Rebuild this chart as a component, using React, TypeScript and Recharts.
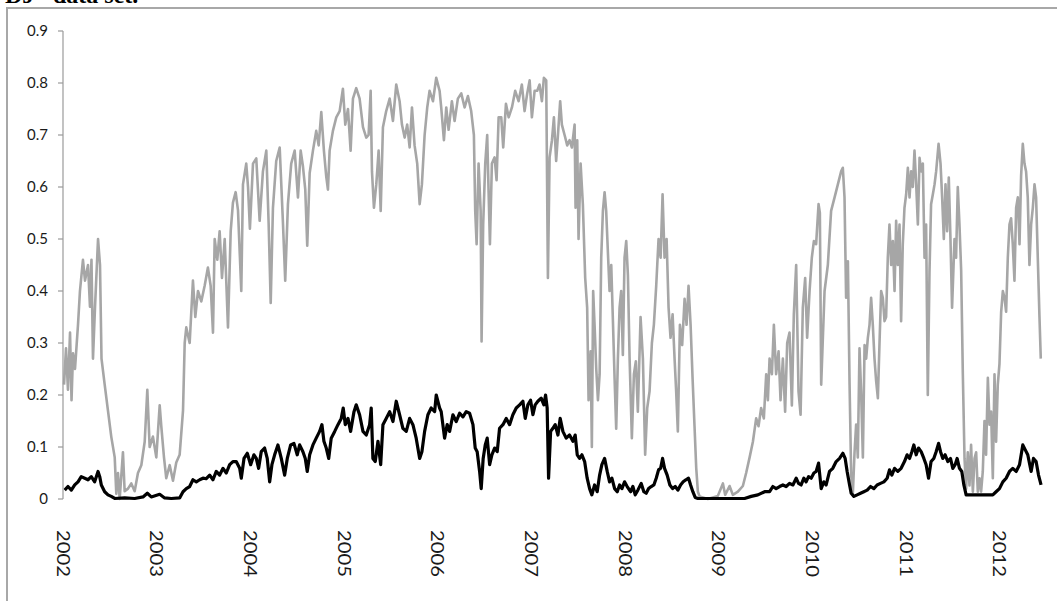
import React from 'react';
import { LineChart, Line, XAxis, YAxis } from 'recharts';

const YEARS = [2002, 2003, 2004, 2005, 2006, 2007, 2008, 2009, 2010, 2011, 2012];
const Y_TICKS = [0, 0.1, 0.2, 0.3, 0.4, 0.5, 0.6, 0.7, 0.8, 0.9];

// [years after 1 Jan 2002, value]
const GRAY: [number, number][] = [
  [0.011,0.22],[0.032,0.29],[0.053,0.21],[0.075,0.32],[0.091,0.19],[0.107,0.28],[0.128,0.25],[0.160,0.335],
  [0.181,0.40],[0.213,0.46],[0.235,0.42],[0.267,0.45],[0.288,0.37],[0.304,0.46],[0.320,0.27],[0.342,0.37],
  [0.374,0.50],[0.395,0.45],[0.411,0.27],[0.445,0.22],[0.480,0.17],[0.515,0.12],[0.552,0.08],[0.569,0.01],
  [0.587,0.05],[0.605,0.0],[0.640,0.09],[0.658,0.015],[0.694,0.02],[0.729,0.03],[0.765,0.015],[0.800,0.05],
  [0.836,0.065],[0.872,0.11],[0.900,0.21],[0.925,0.10],[0.960,0.12],[0.996,0.08],[1.032,0.18],[1.049,0.14],
  [1.078,0.08],[1.102,0.04],[1.139,0.065],[1.174,0.035],[1.209,0.07],[1.245,0.085],[1.281,0.17],[1.299,0.30],
  [1.316,0.33],[1.352,0.30],[1.387,0.42],[1.412,0.35],[1.441,0.40],[1.476,0.38],[1.512,0.41],[1.547,0.445],
  [1.576,0.41],[1.601,0.32],[1.619,0.50],[1.647,0.46],[1.672,0.515],[1.697,0.425],[1.726,0.50],[1.761,0.33],
  [1.790,0.515],[1.814,0.57],[1.843,0.59],[1.868,0.555],[1.903,0.40],[1.921,0.605],[1.956,0.645],[1.975,0.60],
  [1.995,0.52],[2.028,0.645],[2.063,0.655],[2.099,0.535],[2.134,0.63],[2.170,0.67],[2.195,0.53],[2.217,0.377],
  [2.241,0.56],[2.276,0.65],[2.313,0.676],[2.348,0.53],[2.372,0.42],[2.401,0.567],[2.436,0.645],[2.473,0.67],
  [2.508,0.58],[2.537,0.67],[2.561,0.64],[2.586,0.595],[2.607,0.487],[2.633,0.627],[2.668,0.67],[2.703,0.708],
  [2.729,0.68],[2.757,0.744],[2.785,0.67],[2.810,0.62],[2.828,0.595],[2.846,0.67],[2.881,0.708],[2.917,0.734],
  [2.953,0.746],[2.988,0.789],[3.013,0.72],[3.042,0.75],[3.070,0.67],[3.095,0.77],[3.130,0.79],[3.166,0.77],
  [3.202,0.715],[3.237,0.695],[3.262,0.70],[3.284,0.785],[3.298,0.63],[3.319,0.56],[3.344,0.605],[3.369,0.67],
  [3.391,0.554],[3.415,0.715],[3.450,0.746],[3.487,0.77],[3.522,0.727],[3.557,0.797],[3.593,0.765],[3.618,0.72],
  [3.647,0.695],[3.674,0.72],[3.700,0.676],[3.725,0.753],[3.753,0.68],[3.781,0.645],[3.807,0.567],[3.831,0.605],
  [3.860,0.70],[3.888,0.753],[3.913,0.785],[3.949,0.765],[3.984,0.81],[4.020,0.785],[4.037,0.753],[4.066,0.69],
  [4.091,0.753],[4.116,0.71],[4.151,0.765],[4.180,0.727],[4.215,0.77],[4.251,0.78],[4.287,0.753],[4.322,0.775],
  [4.357,0.746],[4.386,0.70],[4.400,0.554],[4.415,0.49],[4.436,0.645],[4.458,0.554],[4.468,0.303],[4.485,0.528],
  [4.507,0.645],[4.528,0.70],[4.543,0.59],[4.557,0.49],[4.578,0.645],[4.607,0.657],[4.628,0.613],[4.650,0.734],
  [4.678,0.734],[4.699,0.676],[4.728,0.76],[4.757,0.734],[4.792,0.753],[4.827,0.785],[4.863,0.765],[4.898,0.797],
  [4.927,0.746],[4.955,0.78],[4.981,0.805],[5.005,0.734],[5.034,0.785],[5.062,0.785],[5.087,0.797],[5.112,0.765],
  [5.133,0.81],[5.158,0.805],[5.176,0.425],[5.194,0.657],[5.219,0.69],[5.240,0.734],[5.264,0.65],[5.283,0.70],
  [5.307,0.765],[5.325,0.72],[5.354,0.70],[5.382,0.68],[5.407,0.69],[5.432,0.676],[5.461,0.72],[5.471,0.56],
  [5.489,0.69],[5.503,0.50],[5.525,0.645],[5.549,0.567],[5.574,0.425],[5.595,0.368],[5.610,0.19],[5.632,0.284],
  [5.645,0.10],[5.659,0.40],[5.674,0.335],[5.692,0.25],[5.710,0.19],[5.728,0.24],[5.745,0.464],[5.763,0.554],
  [5.781,0.59],[5.798,0.554],[5.816,0.476],[5.834,0.40],[5.852,0.45],[5.870,0.342],[5.888,0.23],[5.905,0.135],
  [5.923,0.27],[5.941,0.368],[5.958,0.40],[5.976,0.277],[5.994,0.464],[6.012,0.496],[6.030,0.43],[6.048,0.27],
  [6.072,0.117],[6.094,0.24],[6.115,0.265],[6.136,0.168],[6.165,0.35],[6.190,0.27],[6.214,0.085],[6.236,0.175],
  [6.261,0.207],[6.286,0.30],[6.307,0.335],[6.332,0.41],[6.357,0.50],[6.379,0.464],[6.400,0.586],[6.421,0.464],
  [6.443,0.50],[6.464,0.368],[6.485,0.31],[6.507,0.355],[6.528,0.27],[6.545,0.207],[6.563,0.13],[6.585,0.335],
  [6.609,0.296],[6.635,0.385],[6.656,0.335],[6.677,0.41],[6.699,0.335],[6.720,0.233],[6.741,0.14],[6.759,0.06],
  [6.777,0.014],[6.795,0.005],[6.883,0.0],[6.990,0.006],[7.044,0.03],[7.068,0.008],[7.115,0.025],[7.150,0.008],
  [7.204,0.014],[7.257,0.025],[7.292,0.05],[7.329,0.08],[7.364,0.11],[7.399,0.155],[7.424,0.14],[7.452,0.175],
  [7.481,0.155],[7.506,0.24],[7.524,0.19],[7.542,0.27],[7.567,0.24],[7.588,0.335],[7.612,0.24],[7.638,0.284],
  [7.659,0.19],[7.684,0.27],[7.708,0.168],[7.730,0.30],[7.755,0.32],[7.780,0.18],[7.801,0.355],[7.826,0.45],
  [7.851,0.207],[7.873,0.162],[7.897,0.368],[7.922,0.425],[7.943,0.31],[7.969,0.40],[7.993,0.464],[8.015,0.496],
  [8.039,0.49],[8.065,0.567],[8.079,0.55],[8.093,0.22],[8.129,0.40],[8.164,0.45],[8.199,0.554],[8.236,0.58],
  [8.271,0.605],[8.306,0.63],[8.324,0.637],[8.342,0.58],[8.359,0.387],[8.378,0.457],[8.396,0.22],[8.413,0.046],
  [8.431,0.01],[8.449,0.09],[8.466,0.143],[8.484,0.08],[8.502,0.29],[8.519,0.207],[8.538,0.08],[8.556,0.296],
  [8.573,0.27],[8.591,0.31],[8.609,0.335],[8.626,0.387],[8.644,0.335],[8.662,0.27],[8.680,0.226],[8.698,0.194],
  [8.716,0.303],[8.733,0.40],[8.751,0.387],[8.769,0.342],[8.786,0.35],[8.804,0.464],[8.822,0.528],[8.840,0.45],
  [8.858,0.496],[8.876,0.40],[8.893,0.535],[8.911,0.45],[8.929,0.528],[8.946,0.342],[8.964,0.49],[8.982,0.56],
  [9.000,0.586],[9.018,0.637],[9.036,0.58],[9.053,0.63],[9.071,0.60],[9.089,0.67],[9.107,0.605],[9.125,0.528],
  [9.143,0.656],[9.160,0.63],[9.178,0.645],[9.196,0.464],[9.213,0.528],[9.231,0.20],[9.249,0.436],[9.266,0.567],
  [9.285,0.586],[9.303,0.605],[9.320,0.63],[9.346,0.683],[9.367,0.645],[9.384,0.58],[9.402,0.50],[9.420,0.605],
  [9.437,0.515],[9.455,0.618],[9.473,0.50],[9.490,0.368],[9.516,0.50],[9.533,0.464],[9.551,0.60],[9.569,0.528],
  [9.587,0.44],[9.605,0.24],[9.623,0.078],[9.640,0.02],[9.658,0.09],[9.676,0.026],[9.693,0.104],[9.712,0.014],
  [9.730,0.078],[9.747,0.09],[9.765,0.014],[9.783,0.04],[9.800,0.014],[9.818,0.053],[9.836,0.15],[9.853,0.085],
  [9.872,0.233],[9.890,0.143],[9.907,0.168],[9.925,0.04],[9.943,0.24],[9.960,0.11],[9.978,0.22],[9.996,0.26],
  [10.014,0.36],[10.032,0.40],[10.050,0.387],[10.067,0.36],[10.085,0.464],[10.103,0.528],[10.120,0.54],[10.138,0.49],
  [10.156,0.42],[10.174,0.56],[10.192,0.58],[10.210,0.49],[10.227,0.622],[10.245,0.683],[10.263,0.645],[10.280,0.63],
  [10.298,0.58],[10.316,0.45],[10.334,0.528],[10.352,0.56],[10.370,0.605],[10.387,0.58],[10.405,0.464],[10.423,0.35],
  [10.437,0.27],
];

const BLACK: [number, number][] = [
  [0.018,0.017],[0.053,0.024],[0.089,0.017],[0.125,0.027],[0.160,0.033],[0.195,0.043],[0.232,0.04],[0.267,0.037],
  [0.302,0.043],[0.338,0.033],[0.374,0.053],[0.392,0.043],[0.409,0.027],[0.445,0.014],[0.480,0.008],[0.515,0.005],
  [0.552,0.001],[0.658,0.002],[0.765,0.001],[0.854,0.004],[0.900,0.011],[0.942,0.004],[1.032,0.009],[1.085,0.002],
  [1.156,0.001],[1.245,0.002],[1.281,0.014],[1.316,0.02],[1.352,0.024],[1.387,0.037],[1.423,0.033],[1.459,0.037],
  [1.494,0.04],[1.529,0.039],[1.566,0.046],[1.601,0.037],[1.636,0.053],[1.672,0.046],[1.708,0.059],[1.743,0.05],
  [1.779,0.066],[1.814,0.072],[1.849,0.072],[1.886,0.059],[1.903,0.04],[1.932,0.078],[1.967,0.088],[2.003,0.066],
  [2.038,0.085],[2.063,0.078],[2.088,0.059],[2.116,0.091],[2.152,0.098],[2.180,0.078],[2.206,0.033],[2.230,0.066],
  [2.259,0.085],[2.294,0.104],[2.330,0.078],[2.366,0.046],[2.394,0.078],[2.430,0.104],[2.465,0.107],[2.500,0.085],
  [2.526,0.104],[2.561,0.091],[2.586,0.078],[2.607,0.053],[2.633,0.085],[2.668,0.104],[2.703,0.117],[2.739,0.13],
  [2.764,0.143],[2.785,0.111],[2.810,0.098],[2.836,0.078],[2.863,0.117],[2.900,0.13],[2.935,0.143],[2.970,0.155],
  [2.991,0.175],[3.013,0.143],[3.042,0.155],[3.070,0.13],[3.106,0.168],[3.130,0.181],[3.166,0.162],[3.202,0.13],
  [3.237,0.123],[3.273,0.143],[3.290,0.175],[3.308,0.078],[3.333,0.072],[3.362,0.111],[3.391,0.066],[3.415,0.143],
  [3.450,0.155],[3.487,0.168],[3.522,0.149],[3.557,0.188],[3.593,0.162],[3.628,0.136],[3.664,0.13],[3.700,0.155],
  [3.735,0.143],[3.770,0.117],[3.807,0.078],[3.831,0.091],[3.860,0.13],[3.895,0.162],[3.930,0.175],[3.967,0.168],
  [3.984,0.20],[4.020,0.175],[4.037,0.168],[4.073,0.117],[4.101,0.143],[4.127,0.13],[4.162,0.162],[4.197,0.149],
  [4.234,0.165],[4.269,0.158],[4.304,0.168],[4.340,0.165],[4.376,0.143],[4.400,0.098],[4.421,0.091],[4.447,0.053],
  [4.464,0.02],[4.485,0.078],[4.507,0.104],[4.528,0.117],[4.554,0.066],[4.578,0.085],[4.607,0.098],[4.635,0.091],
  [4.660,0.136],[4.696,0.143],[4.731,0.155],[4.767,0.143],[4.802,0.162],[4.838,0.175],[4.874,0.181],[4.909,0.188],
  [4.934,0.155],[4.962,0.181],[4.991,0.19],[5.016,0.162],[5.040,0.181],[5.069,0.188],[5.104,0.194],[5.133,0.181],
  [5.151,0.20],[5.168,0.175],[5.183,0.04],[5.205,0.13],[5.229,0.136],[5.254,0.143],[5.283,0.123],[5.307,0.155],
  [5.336,0.13],[5.371,0.117],[5.407,0.123],[5.443,0.111],[5.467,0.123],[5.489,0.085],[5.514,0.078],[5.539,0.085],
  [5.568,0.072],[5.595,0.04],[5.621,0.02],[5.645,0.008],[5.674,0.027],[5.702,0.014],[5.728,0.046],[5.752,0.066],
  [5.781,0.078],[5.809,0.053],[5.834,0.033],[5.859,0.04],[5.888,0.02],[5.916,0.014],[5.941,0.027],[5.966,0.02],
  [5.994,0.033],[6.022,0.024],[6.058,0.014],[6.083,0.024],[6.108,0.008],[6.136,0.017],[6.172,0.03],[6.200,0.014],
  [6.225,0.011],[6.251,0.02],[6.279,0.024],[6.307,0.027],[6.332,0.04],[6.357,0.056],[6.379,0.059],[6.400,0.078],
  [6.421,0.059],[6.449,0.046],[6.478,0.027],[6.507,0.02],[6.535,0.024],[6.563,0.017],[6.592,0.027],[6.620,0.033],
  [6.649,0.037],[6.677,0.04],[6.699,0.027],[6.723,0.014],[6.748,0.003],[6.777,0.001],[7.025,0.001],[7.275,0.001],
  [7.346,0.005],[7.417,0.008],[7.489,0.014],[7.542,0.014],[7.577,0.024],[7.612,0.02],[7.649,0.024],[7.684,0.027],
  [7.719,0.024],[7.755,0.03],[7.791,0.027],[7.826,0.04],[7.851,0.03],[7.879,0.027],[7.908,0.04],[7.932,0.033],
  [7.958,0.043],[7.986,0.04],[8.015,0.05],[8.039,0.053],[8.065,0.069],[8.093,0.02],[8.121,0.033],[8.146,0.027],
  [8.182,0.053],[8.217,0.059],[8.253,0.072],[8.289,0.078],[8.324,0.088],[8.349,0.078],[8.370,0.053],[8.396,0.027],
  [8.413,0.011],[8.442,0.005],[8.477,0.008],[8.513,0.011],[8.548,0.014],[8.584,0.017],[8.620,0.024],[8.655,0.02],
  [8.690,0.027],[8.726,0.03],[8.762,0.033],[8.797,0.04],[8.822,0.056],[8.847,0.046],[8.876,0.059],[8.911,0.053],
  [8.946,0.059],[8.982,0.072],[9.010,0.085],[9.036,0.078],[9.061,0.091],[9.082,0.104],[9.107,0.085],[9.132,0.098],
  [9.160,0.091],[9.189,0.078],[9.213,0.066],[9.239,0.04],[9.266,0.072],[9.295,0.078],[9.320,0.091],[9.346,0.107],
  [9.367,0.091],[9.391,0.078],[9.416,0.085],[9.445,0.072],[9.473,0.078],[9.498,0.059],[9.523,0.066],[9.544,0.078],
  [9.569,0.059],[9.594,0.053],[9.616,0.027],[9.640,0.008],[9.712,0.008],[9.783,0.008],[9.853,0.008],[9.925,0.008],
  [9.960,0.014],[9.996,0.02],[10.032,0.033],[10.067,0.04],[10.103,0.053],[10.138,0.059],[10.174,0.053],[10.210,0.066],
  [10.245,0.104],[10.270,0.095],[10.298,0.085],[10.334,0.053],[10.359,0.078],[10.387,0.072],[10.413,0.046],[10.440,0.027],
];

const toRows = (pts: [number, number][]) => pts.map(([t, v]) => ({ t: 2002 + t, v }));

const grayRows = toRows(GRAY);
const blackRows = toRows(BLACK);

const AXIS_GRAY = '#9a9a9a';
const LABEL_FONT = 'Lato, "Open Sans", sans-serif';

// year labels run top-to-bottom under each tick
const YearTick = ({ x, y, payload }: any) => (
  <text
    x={x}
    y={y}
    transform={`rotate(90 ${x} ${y})`}
    dominantBaseline="central"
    textLength={47}
    lengthAdjust="spacingAndGlyphs"
    fontSize={17}
    fontFamily={LABEL_FONT}
    fill="#1a1a1a"
  >
    {payload.value}
  </text>
);

export default function App() {
  return (
    <div style={{ position: 'absolute', left: 0, top: 0, width: 1057, height: 601, background: '#fff', overflow: 'hidden' }}>
      {/* caption line of the page above, mostly scrolled off */}
      <svg style={{ position: 'absolute', left: 0, top: 0 }} width={220} height={12}>
        <text x={5} y={3} fontFamily='"Liberation Serif", serif' fontWeight="bold" fontSize={24} fill="#000">DJ</text>
        <text x={53} y={3} fontFamily='"Liberation Serif", serif' fontWeight="bold" fontSize={24} fill="#000">data set.</text>
      </svg>
      <div
        style={{
          position: 'absolute', left: 6, top: 7, width: 1200, height: 700,
          borderLeft: '2px solid #a8a8a8', borderTop: '2px solid #a8a8a8',
        }}
      />
      <div style={{ position: 'absolute', left: 0, top: 0 }}>
        <LineChart width={1057} height={601} margin={{ top: 31, right: 15, bottom: 0, left: 0 }}>
          <XAxis
            type="number"
            dataKey="t"
            domain={[2002, 2012.45]}
            ticks={YEARS}
            interval={0}
            axisLine={false}
            tickLine={false}
            tickSize={0}
            tickMargin={31}
            height={102}
            tick={<YearTick />}
            allowDuplicatedCategory={false}
          />
          <YAxis
            type="number"
            domain={[0, 0.9]}
            ticks={Y_TICKS}
            interval={0}
            width={63}
            axisLine={{ stroke: AXIS_GRAY, strokeWidth: 1.2 }}
            tickLine={{ stroke: AXIS_GRAY, strokeWidth: 1.2 }}
            tickSize={5}
            tickMargin={10}
            tickFormatter={(v: number) => String(v)}
            tick={{ fontSize: 15, fontFamily: LABEL_FONT, fill: '#1a1a1a' }}
          />
          <Line
            data={grayRows}
            dataKey="v"
            type="linear"
            stroke="#a6a6a6"
            strokeWidth={2.6}
            strokeLinejoin="round"
            dot={false}
            activeDot={false}
            isAnimationActive={false}
          />
          <Line
            data={blackRows}
            dataKey="v"
            type="linear"
            stroke="#000"
            strokeWidth={3.2}
            strokeLinejoin="round"
            dot={false}
            activeDot={false}
            isAnimationActive={false}
          />
        </LineChart>
      </div>
    </div>
  );
}
